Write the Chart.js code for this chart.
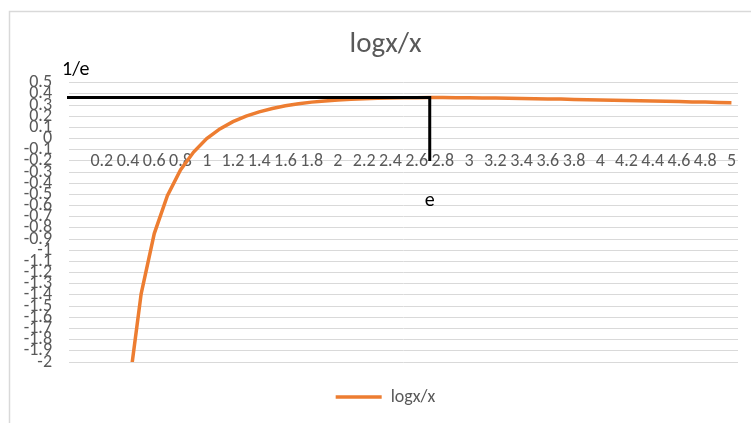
<!DOCTYPE html>
<html>
<head>
<meta charset="utf-8">
<script src="https://cdn.jsdelivr.net/npm/chart.js@4"></script>
<style>
  html, body { margin: 0; padding: 0; background: #fff; }
  #wrap { width: 751px; height: 423px; }
</style>
</head>
<body>
<div id="wrap"><canvas id="logChart"></canvas></div>
<script>
// x values (first cell empty: log(0)/0 has no value)
const categories = ['', '0.1', '0.2', '0.3', '0.4', '0.5', '0.6', '0.7', '0.8', '0.9',
  '1', '1.1', '1.2', '1.3', '1.4', '1.5', '1.6', '1.7', '1.8', '1.9',
  '2', '2.1', '2.2', '2.3', '2.4', '2.5', '2.6', '2.7', '2.8', '2.9',
  '3', '3.1', '3.2', '3.3', '3.4', '3.5', '3.6', '3.7', '3.8', '3.9',
  '4', '4.1', '4.2', '4.3', '4.4', '4.5', '4.6', '4.7', '4.8', '4.9', '5'];

// logx/x
const logxOverX = [null, -23.03, -8.05, -4.01, -2.29, -1.39, -0.85, -0.51, -0.28, -0.12,
  0, 0.087, 0.152, 0.202, 0.24, 0.27, 0.294, 0.312, 0.327, 0.338,
  0.347, 0.353, 0.358, 0.362, 0.365, 0.367, 0.367, 0.368, 0.368, 0.367,
  0.366, 0.365, 0.364, 0.362, 0.36, 0.358, 0.356, 0.354, 0.351, 0.349,
  0.347, 0.344, 0.342, 0.339, 0.337, 0.334, 0.332, 0.329, 0.327, 0.324, 0.322];

// marker lines: 1/e level and x = e
const markY = [0.368, -0.2];   // horizontal level, bottom of the vertical stroke
const markX = ['2.7'];
const markLabels = ['1/e', 'e'];

const FONT = 'Carlito, Lato, "Liberation Sans", sans-serif';
const GREY = '#595959';

const markerPlugin = {
  id: 'markers',
  beforeDraw(chart) {
    const ctx = chart.ctx;
    ctx.save();
    ctx.strokeStyle = '#d9d9d9';
    ctx.lineWidth = 1.5;
    ctx.strokeRect(9.5, 11.5, chart.width + 20, chart.height + 20);
    ctx.restore();
  },
  afterDatasetsDraw(chart) {
    const ctx = chart.ctx;
    const xs = chart.scales.x, ys = chart.scales.y;
    const ex = xs.getPixelForValue(categories.indexOf(markX[0]));
    const ly = ys.getPixelForValue(markY[0]);
    const by = ys.getPixelForValue(markY[1]);
    ctx.save();
    ctx.strokeStyle = '#000';
    ctx.lineWidth = 3;
    ctx.beginPath();
    ctx.moveTo(chart.chartArea.left - 2, ly);
    ctx.lineTo(ex, ly);
    ctx.lineTo(ex, by);
    ctx.stroke();
    ctx.fillStyle = '#000';
    ctx.font = '20px ' + FONT;
    ctx.textBaseline = 'middle';
    ctx.textAlign = 'left';
    ctx.fillText(markLabels[0], chart.chartArea.left - 7, ys.getPixelForValue(0.5) - 13);
    ctx.textAlign = 'center';
    ctx.fillText(markLabels[1], ex, ys.getPixelForValue(-0.56));
    ctx.restore();
  }
};

new Chart(document.getElementById('logChart'), {
  type: 'line',
  data: {
    labels: categories,
    datasets: [{
      label: 'logx/x',
      data: logxOverX,
      borderColor: '#ED7D31',
      backgroundColor: '#ED7D31',
      borderWidth: 3.5,
      pointRadius: 0,
      tension: 0,
      fill: false,
    }],
  },
  options: {
    responsive: true,
    maintainAspectRatio: false,
    animation: false,
    layout: { padding: { left: 33, right: 13, top: 11, bottom: 7 } },
    plugins: {
      title: {
        display: true,
        text: 'logx/x',
        color: GREY,
        font: { family: FONT, size: 29, weight: 'normal' },
        padding: { top: 16, bottom: 21 },
      },
      legend: {
        position: 'bottom',
        labels: {
          color: GREY,
          font: { family: FONT, size: 18 },
          usePointStyle: true,
          pointStyle: 'line',
          pointStyleWidth: 46,
          padding: 10,
        },
      },
      tooltip: { enabled: false },
    },
    scales: {
      x: {
        type: 'category',
        offset: true,
        position: { y: 0 },
        grid: { display: false, drawTicks: false },
        border: { display: true, color: '#d9d9d9', width: 1 },
        ticks: {
          autoSkip: false,
          maxRotation: 0,
          minRotation: 0,
          padding: 12,
          color: GREY,
          font: { family: FONT, size: 18 },
          callback: (v, i) => (i > 0 && i % 2 === 0 ? categories[i] : ''),
        },
      },
      // empty strip between plot and legend
      spacer: {
        type: 'linear',
        axis: 'x',
        position: 'bottom',
        grid: { display: false },
        border: { display: false },
        ticks: { display: false },
        afterFit(scale) { scale.height = 16; },
      },
      y: {
        min: -2,
        max: 0.5,
        grid: { color: '#d9d9d9', drawTicks: false },
        border: { display: false },
        ticks: {
          stepSize: 0.1,
          autoSkip: false,
          padding: 17,
          color: GREY,
          font: { family: FONT, size: 18 },
          callback: (v) => String(Math.round(v * 10) / 10),
        },
        afterFit(scale) {
          scale.width = 36;
          // labels spill left of the narrow box, so don't clip them
          scale._computeLabelArea = () => undefined;
        },
      },
    },
  },
  plugins: [markerPlugin],
});
</script>
</body>
</html>
